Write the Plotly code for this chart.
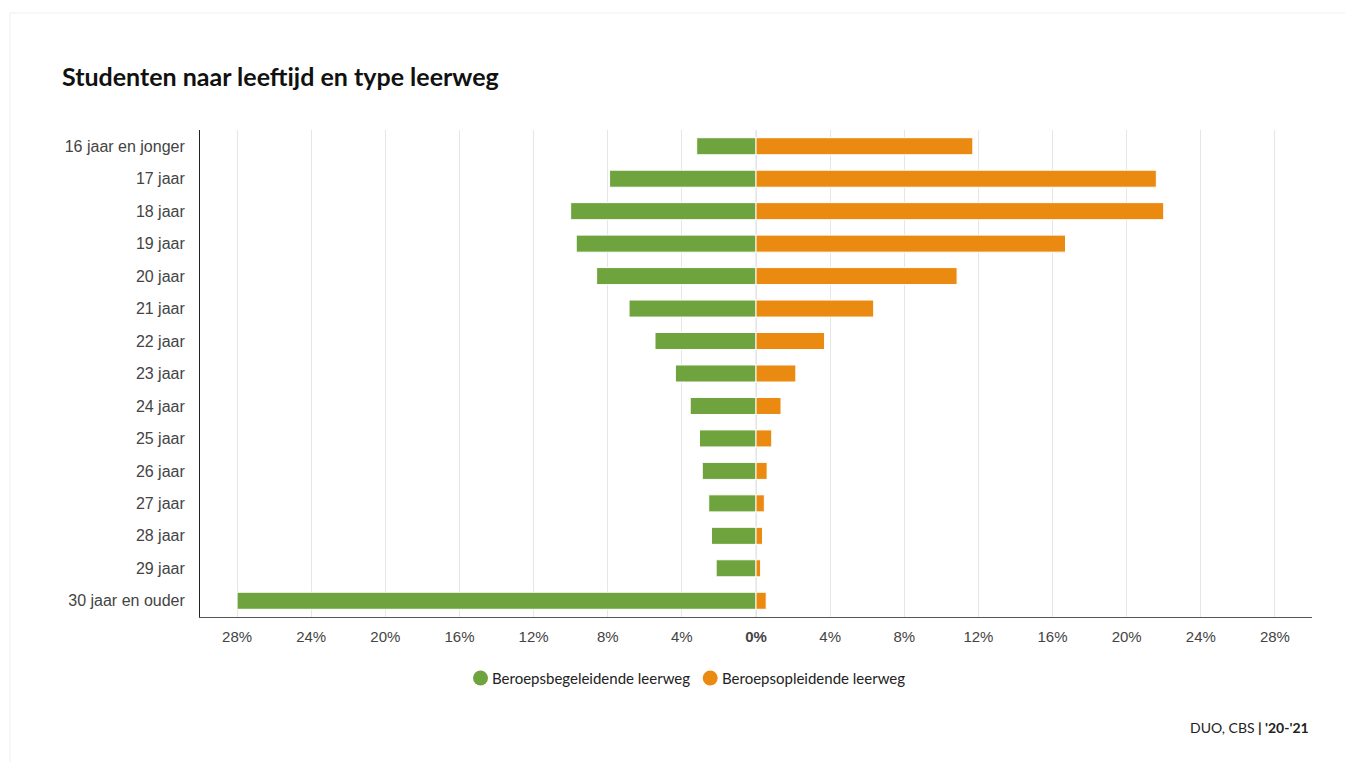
import plotly.graph_objects as go

categories = ["16 jaar en jonger", "17 jaar", "18 jaar", "19 jaar", "20 jaar", "21 jaar",
              "22 jaar", "23 jaar", "24 jaar", "25 jaar", "26 jaar", "27 jaar", "28 jaar",
              "29 jaar", "30 jaar en ouder"]
bbl = [3.2, 7.9, 10.0, 9.7, 8.6, 6.85, 5.45, 4.35, 3.55, 3.05, 2.9, 2.55, 2.4, 2.15, 28.0]
bol = [11.7, 21.6, 22.0, 16.7, 10.85, 6.35, 3.7, 2.15, 1.35, 0.85, 0.6, 0.45, 0.35, 0.25, 0.55]
tick_vals = [-28, -24, -20, -16, -12, -8, -4, 0, 4, 8, 12, 16, 20, 24, 28]
tick_text = ["28%", "24%", "20%", "16%", "12%", "8%", "4%", "<b>0%</b>",
             "4%", "8%", "12%", "16%", "20%", "24%", "28%"]
series_names = ["Beroepsbegeleidende leerweg", "Beroepsopleidende leerweg"]

GREEN = "#6fa33e"
ORANGE = "#eb8a10"
FONT = "Lato, 'Open Sans', sans-serif"
AXFONT = "'Liberation Sans', Arial, sans-serif"

W, H = 1345, 754  # page has an 8px body margin


def px(X):
    return (X - 200) / 1112


def py(Y):
    return (617 - Y) / 487


fig = go.Figure()
fig.add_trace(go.Bar(y=categories, x=[-v for v in bbl], orientation="h",
                     marker=dict(color=GREEN, line=dict(color="white", width=1)),
                     name=series_names[0], showlegend=False,
                     customdata=bbl, hovertemplate="%{y}: %{customdata}%<extra></extra>"))
fig.add_trace(go.Bar(y=categories, x=bol, orientation="h",
                     marker=dict(color=ORANGE, line=dict(color="white", width=1)),
                     name=series_names[1], showlegend=False,
                     hovertemplate="%{y}: %{x}%<extra></extra>"))

shapes = [
    dict(type="rect", xref="paper", yref="paper", x0=px(10), x1=px(1370), y0=py(790), y1=py(13),
         line=dict(color="#efefef", width=1), fillcolor="rgba(0,0,0,0)", layer="below"),
    dict(type="line", xref="x", yref="paper", x0=0, x1=0, y0=0, y1=1,
         line=dict(color="#dddddd", width=1), layer="below"),
]
annotations = []
legend_items = [(series_names[0], GREEN, 480.5, 491.5), (series_names[1], ORANGE, 710.2, 721.5)]
for name, col, cx, tx in legend_items:
    shapes.append(dict(type="circle", xref="paper", yref="paper",
                       xsizemode="pixel", ysizemode="pixel",
                       xanchor=px(cx), yanchor=py(678), x0=-7.5, x1=7.5, y0=-7.5, y1=7.5,
                       fillcolor=col, line=dict(width=0)))
    annotations.append(dict(text=name, xref="paper", yref="paper", x=px(tx) - 0.001, xanchor="left",
                            y=py(677.5), yanchor="middle", showarrow=False,
                            font=dict(family=FONT, size=15, color="#222")))
annotations.append(dict(text="DUO, CBS<b> | '20-'21</b>", xref="paper", yref="paper",
                        x=px(1311), xanchor="right", y=py(727.5), yanchor="middle",
                        showarrow=False, font=dict(family=FONT, size=14, color="#222")))

fig.update_layout(
    width=W, height=H,
    margin=dict(l=192, r=41, t=122, b=145),
    paper_bgcolor="white", plot_bgcolor="white",
    barmode="relative", bargap=0.475,
    showlegend=False,
    font=dict(family=FONT, size=14, color="#444"),
    title=dict(text="<b>Studenten naar leeftijd en type leerweg</b>",
               x=54 / W, xanchor="left", xref="container",
               y=1 - 69 / H, yanchor="middle", yref="container",
               font=dict(family=FONT, size=25, color="#111")),
    xaxis=dict(range=[-30, 30], tickvals=tick_vals, ticktext=tick_text,
               showgrid=True, gridcolor="#e6e6e6", gridwidth=1,
               zeroline=False, showline=True, linecolor="#555", linewidth=1,
               tickfont=dict(family=AXFONT, size=15, color="#444"),
               ticks="", ticklen=0, ticklabelstandoff=6, fixedrange=True),
    yaxis=dict(categoryorder="array", categoryarray=categories, autorange="reversed",
               showline=True, linecolor="#222", linewidth=1, showgrid=False,
               tickfont=dict(family=AXFONT, size=16, color="#444"),
               ticks="", ticklen=0, ticklabelstandoff=11, fixedrange=True),
    shapes=shapes,
    annotations=annotations,
)

fig.write_html("out.html")
